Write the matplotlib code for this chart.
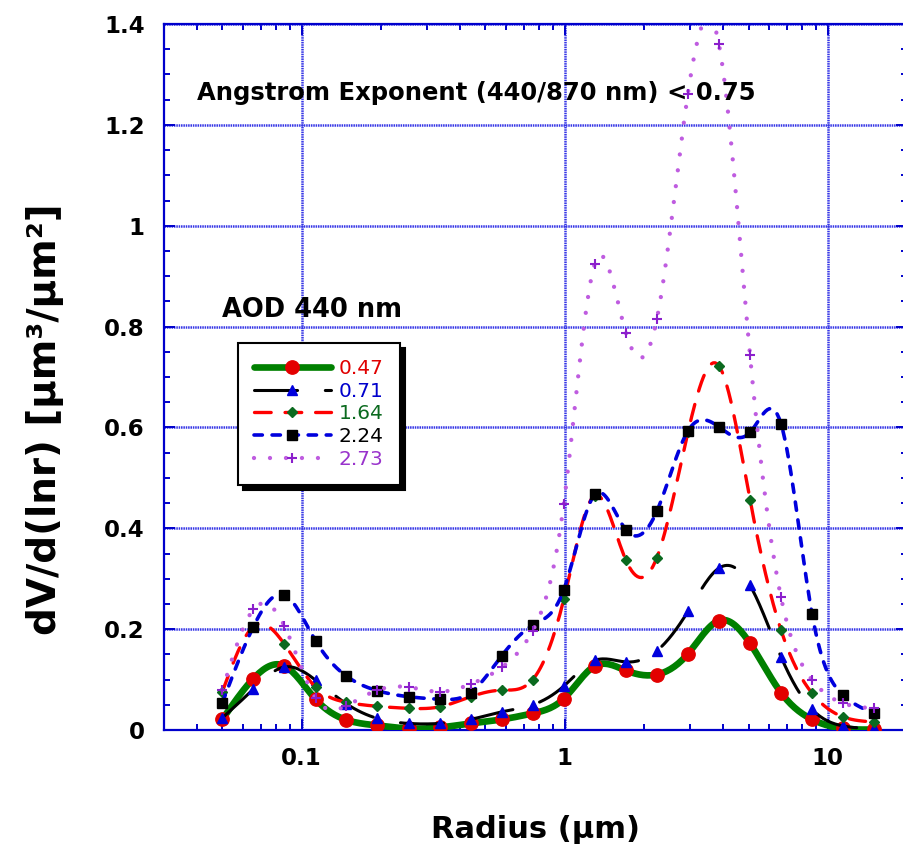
import numpy as np
import matplotlib
matplotlib.use("Agg")
import matplotlib.pyplot as plt
from matplotlib.ticker import MultipleLocator, FuncFormatter, LogLocator, NullFormatter

# Radius bins (um)
radius = [0.05, 0.0656, 0.0861, 0.113, 0.148, 0.194, 0.255, 0.335, 0.439, 0.576, 0.756,
          0.992, 1.302, 1.708, 2.241, 2.940, 3.857, 5.061, 6.641, 8.713, 11.432, 15.0]

# Volume size distributions dV/d(lnr) for each AOD(440 nm) class
dv_047 = [0.021, 0.102, 0.127, 0.061, 0.020, 0.009, 0.003, 0.005, 0.013, 0.021, 0.033,
          0.062, 0.127, 0.118, 0.110, 0.151, 0.217, 0.172, 0.074, 0.021, 0.003, 0.001]
dv_071 = [0.024, 0.081, 0.125, 0.099, 0.052, 0.023, 0.013, 0.013, 0.021, 0.036, 0.050,
          0.087, 0.138, 0.135, 0.157, 0.235, 0.321, 0.287, 0.145, 0.041, 0.008, 0.003]
dv_164 = [0.076, 0.205, 0.170, 0.085, 0.055, 0.047, 0.043, 0.046, 0.066, 0.079, 0.100,
          0.259, 0.465, 0.337, 0.342, 0.590, 0.722, 0.457, 0.198, 0.073, 0.026, 0.016]
dv_224 = [0.054, 0.205, 0.268, 0.177, 0.107, 0.078, 0.066, 0.061, 0.074, 0.147, 0.208,
          0.278, 0.467, 0.397, 0.434, 0.593, 0.601, 0.590, 0.607, 0.230, 0.069, 0.033]
dv_273 = [0.079, 0.239, 0.206, 0.063, 0.048, 0.079, 0.085, 0.076, 0.091, 0.124, 0.197,
          0.448, 0.925, 0.788, 0.815, 1.262, 1.360, 0.744, 0.263, 0.099, 0.053, 0.043]

aod_labels = ["0.47", "0.71", "1.64", "2.24", "2.73"]
label_colors = ["#E00000", "#0000CC", "#0B6A1F", "#000000", "#9933CC"]

x_ticks = [0.1, 1, 10]
y_ticks = [0, 0.2, 0.4, 0.6, 0.8, 1.0, 1.2, 1.4]

PER = 16  # samples per interval for the smooth curve


def smooth_curve(x, y, per=PER):
    """Natural cubic spline through (log10 x, y); returns dense curve including the knots."""
    lx = np.log10(np.asarray(x, float))
    y = np.asarray(y, float)
    n = len(lx)
    h = np.diff(lx)
    A = np.zeros((n, n))
    b = np.zeros(n)
    A[0, 0] = A[-1, -1] = 1.0
    for i in range(1, n - 1):
        A[i, i - 1] = h[i - 1]
        A[i, i] = 2 * (h[i - 1] + h[i])
        A[i, i + 1] = h[i]
        b[i] = 6 * ((y[i + 1] - y[i]) / h[i] - (y[i] - y[i - 1]) / h[i - 1])
    M = np.linalg.solve(A, b)
    xs, ys = [], []
    for i in range(n - 1):
        t = np.linspace(0, 1, per, endpoint=False)
        xx = lx[i] + t * h[i]
        a = lx[i + 1] - xx
        c = xx - lx[i]
        yy = ((M[i] * a ** 3 + M[i + 1] * c ** 3) / (6 * h[i])
              + (y[i] / h[i] - M[i] * h[i] / 6) * a
              + (y[i + 1] / h[i] - M[i + 1] * h[i] / 6) * c)
        xs.append(xx)
        ys.append(yy)
    xs.append([lx[-1]])
    ys.append([y[-1]])
    return 10 ** np.concatenate(xs), np.concatenate(ys)


plt.rcParams["font.family"] = ["DejaVu Sans"]
plt.rcParams["font.weight"] = "bold"
plt.rcParams["axes.labelweight"] = "bold"
plt.rcParams["lines.scale_dashes"] = False

fig = plt.figure(figsize=(9.04, 8.5), dpi=100)
ax = fig.add_axes([164 / 904, 120 / 850, 743 / 904, 706 / 850])

styles = [
    dict(color="#008000", lw=4.8, ls="-", marker="o", ms=9.6, mfc="#E30000", mec="#E30000",
         solid_capstyle="round"),
    dict(color="black", lw=2.2, ls=(0, (31, 20)), marker="^", ms=7.6, mfc="#0000DD",
         mec="#0000DD", dash_capstyle="round"),
    dict(color="#FF0000", lw=2.4, ls=(0, (12, 10)), marker="D", ms=4.8, mfc="#0B6A1F",
         mec="#0B6A1F", dash_capstyle="round"),
    dict(color="#0000DD", lw=2.6, ls=(0, (6, 7)), marker="s", ms=7.8, mfc="black",
         mec="black", dash_capstyle="round"),
    dict(color="#BF5CE0", lw=3.1, ls=(0, (0.01, 11.5)), marker="+", ms=7.6, mew=1.5,
         mec="#8B1FCC", dash_capstyle="round"),
]

series = [dv_047, dv_071, dv_164, dv_224, dv_273]
handles = []
for k, (vals, st, lab) in enumerate(zip(series, styles, aod_labels)):
    xs, ys = smooth_curve(radius, vals)
    ln, = ax.plot(xs, ys, markevery=slice(0, None, PER), label=lab, zorder=3 + k, **st)
    handles.append(ln)

ax.set_xscale("log")
ax.set_xlim(0.03, 20)
ax.set_ylim(0, 1.4)
ax.set_xticks(x_ticks)
ax.xaxis.set_major_formatter(FuncFormatter(lambda v, p: "%g" % v))
ax.xaxis.set_minor_locator(LogLocator(base=10, subs=np.arange(2, 10)))
ax.xaxis.set_minor_formatter(NullFormatter())
ax.set_yticks(y_ticks)
ax.yaxis.set_major_formatter(FuncFormatter(lambda v, p: "%g" % v))
ax.yaxis.set_minor_locator(MultipleLocator(0.05))

axis_blue = "#0000CC"
for sp in ax.spines.values():
    sp.set_color(axis_blue)
    sp.set_linewidth(1.6)
ax.tick_params(which="both", direction="in", top=True, right=True, color=axis_blue,
               width=1.4, labelsize=16.5)
ax.tick_params(which="major", length=8)
ax.tick_params(which="minor", length=4.5)
ax.tick_params(axis="x", pad=12.5)
ax.tick_params(axis="y", pad=14)

ax.set_axisbelow(True)
ax.grid(True, which="major", color="#3535E6", lw=1.8, ls=(0, (1.1, 0.6)))

ax.set_xlabel("Radius (µm)", fontsize=22)
ax.xaxis.set_label_coords(0.5, -0.121)
ax.set_ylabel("dV/d(lnr) [µm³/µm²]", fontsize=28)
ax.yaxis.set_label_coords(-0.1346, 0.44)

ax.text(0.0444, 0.902, "Angstrom Exponent (440/870 nm) < 0.75", transform=ax.transAxes,
        fontsize=17.5, fontweight="bold", ha="left", va="center", zorder=12)
ax.text(0.0781, 0.595, "AOD 440 nm", transform=ax.transAxes,
        fontsize=18.5, fontweight="bold", ha="left", va="center", zorder=12)

leg = ax.legend(handles=handles, loc="upper left", bbox_to_anchor=(0.0996, 0.548),
                borderaxespad=0, fancybox=False, edgecolor="black", framealpha=1,
                numpoints=1, handlelength=3.8, handletextpad=0.4, labelspacing=0.18,
                borderpad=0.8, prop={"size": 14.5, "weight": "normal"},
                shadow={"ox": 3.8, "oy": -3.8, "facecolor": "black", "edgecolor": "black",
                        "alpha": 1})
leg.get_frame().set_linewidth(1.5)
leg.set_zorder(15)
for txt, c in zip(leg.get_texts(), label_colors):
    txt.set_color(c)

fig.savefig("out.png", dpi=100)
